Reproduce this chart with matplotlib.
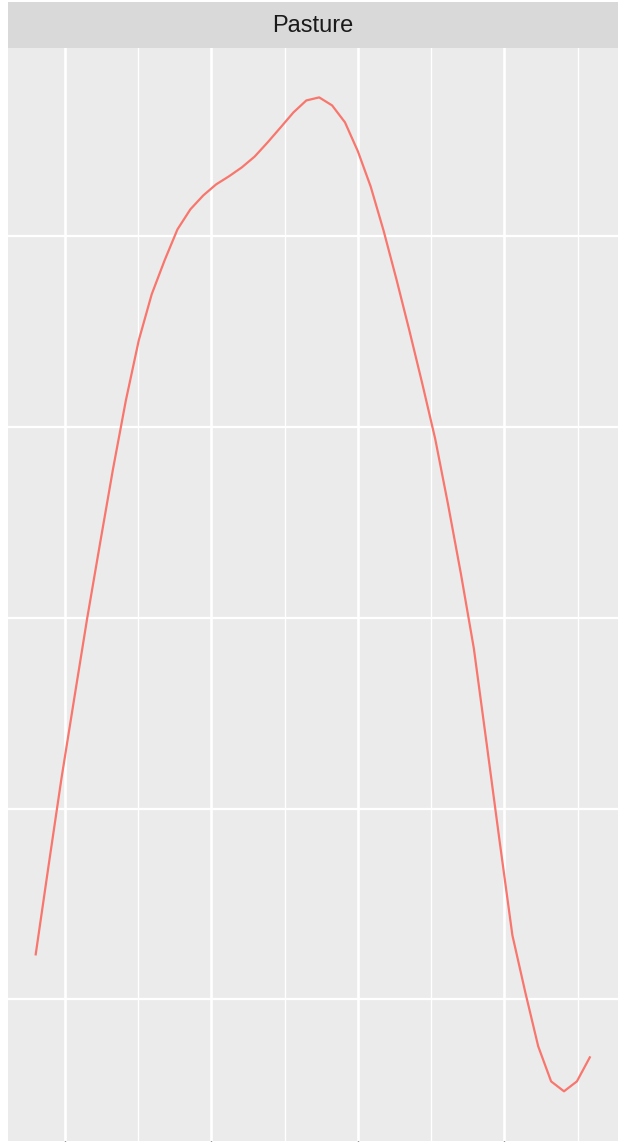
import matplotlib
matplotlib.use("Agg")
import matplotlib.pyplot as plt
from matplotlib.ticker import FixedLocator, NullFormatter

# ---- data ----
facet_label = "Pasture"
x_vals = [-1.98, -1.10, -0.22, 0.66, 1.53, 2.41, 3.29, 4.17, 5.05, 5.93,
          6.81, 7.69, 8.57, 9.45, 10.33, 11.20, 12.08, 12.96, 13.84, 14.72,
          15.60, 16.48, 17.36, 18.24, 19.12, 20.00, 20.87, 21.75, 22.63, 23.51,
          24.39, 25.27, 26.15, 27.03, 27.91, 28.79, 29.67, 30.54, 31.42, 32.30,
          33.18, 34.06, 34.94, 35.82]
y_vals = [12.36, 17.02, 21.60, 25.83, 29.97, 33.91, 37.79, 41.40, 44.55, 46.96,
          48.74, 50.37, 51.42, 52.15, 52.73, 53.15, 53.62, 54.19, 54.93, 55.71,
          56.50, 57.13, 57.29, 56.87, 55.98, 54.46, 52.62, 50.31, 47.75, 45.07,
          42.29, 39.40, 35.95, 32.30, 28.40, 23.37, 18.28, 13.36, 10.37, 7.54,
          5.70, 5.18, 5.70, 6.96]
x_major = [0, 10, 20, 30]
x_minor = [-5, 5, 15, 25, 35]
y_breaks = [10, 20, 30, 40, 50]

line_color = "#F8766D"
W, H = 618, 1142
fig = plt.figure(figsize=(W / 100, H / 100), dpi=100)
fig.patch.set_facecolor("white")

# panel
pl, pr, pt, pb = 8, 617.5, 47.7, 1141
ax = fig.add_axes([pl / W, (H - pb) / H, (pr - pl) / W, (pb - pt) / H])
ax.set_facecolor("#EBEBEB")
for s in ax.spines.values():
    s.set_visible(False)

# expansion like ggplot (5%)
xmin, xmax = min(x_vals), max(x_vals)
ymin, ymax = min(y_vals), max(y_vals)
dx, dy = (xmax - xmin) * 0.05, (ymax - ymin) * 0.05
ax.set_xlim(xmin - dx, xmax + dx)
ax.set_ylim(ymin - dy, ymax + dy)

for v in x_minor:
    ax.axvline(v, color="white", lw=1.0, zorder=1)
for v in x_major:
    ax.axvline(v, color="white", lw=1.9, zorder=1)
for v in y_breaks:
    ax.axhline(v, color="white", lw=1.6, zorder=1)

ax.plot(x_vals, y_vals, color=line_color, lw=1.6, zorder=3)

ax.xaxis.set_major_locator(FixedLocator(x_major))
ax.yaxis.set_major_locator(FixedLocator(y_breaks))
ax.xaxis.set_major_formatter(NullFormatter())
ax.yaxis.set_major_formatter(NullFormatter())
ax.tick_params(axis="x", length=3, width=1, color="#333333")
ax.tick_params(axis="y", length=0)

# strip
st_top = 2
sax = fig.add_axes([pl / W, (H - pt) / H, (pr - pl) / W, (pt - st_top) / H])
sax.set_facecolor("#D9D9D9")
sax.set_xticks([])
sax.set_yticks([])
for s in sax.spines.values():
    s.set_visible(False)
sax.text(0.5, 0.47, facet_label, ha="center", va="center", color="#1A1A1A",
         fontsize=17, family=["Liberation Sans", "DejaVu Sans"],
         transform=sax.transAxes)

fig.savefig("out.png", dpi=100)
